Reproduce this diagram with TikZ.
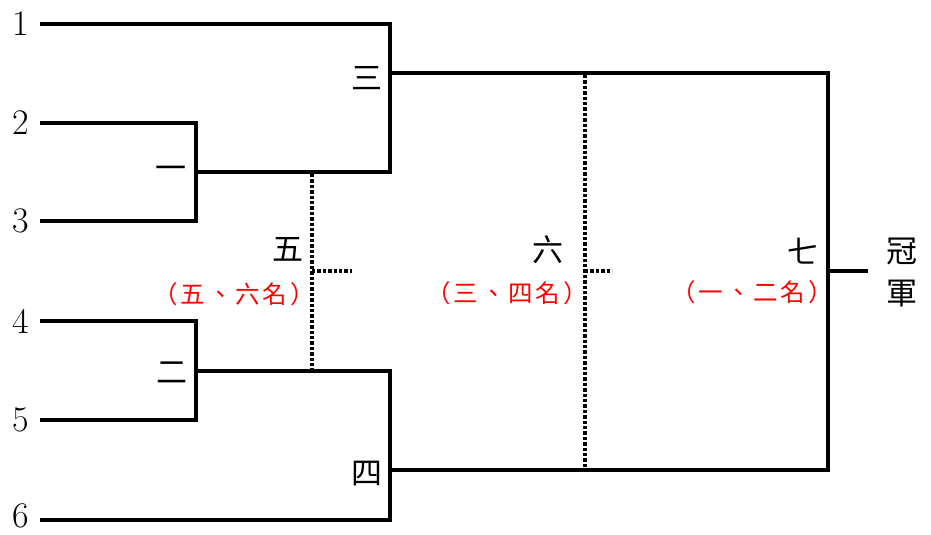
\documentclass[tikz,border=0pt]{standalone}
\usepackage{fontspec}
\usepackage{xcolor}
\newfontfamily\cjk{Noto Sans CJK TC}
\newfontfamily\cjkwide[LetterSpace=12]{Noto Sans CJK TC}

\begin{document}
\begin{tikzpicture}[x=1pt, y=-1pt,
    bracket/.style={line width=3.2pt, line join=miter},
    dots/.style={line width=3.2pt, dash pattern=on 3.4pt off 2pt},
    seed/.style={font=\fontsize{36}{36}\selectfont, inner sep=0pt},
    round/.style={font=\fontsize{31}{31}\selectfont\cjk, inner sep=0pt},
    place/.style={font=\fontsize{24.5}{24.5}\selectfont\cjkwide, red, inner sep=0pt}]

\useasboundingbox (0,0) rectangle (931,535);

% Jugadores
\coordinate (p1) at (40,24);
\coordinate (p2) at (40,123);
\coordinate (p3) at (40,221);
\coordinate (p4) at (40,321);
\coordinate (p5) at (40,420);
\coordinate (p6) at (40,520);
\node[seed] (s1) at (21,24) {1};
\node[seed] (s2) at (21,123) {2};
\node[seed] (s3) at (21,221) {3};
\node[seed] (s4) at (21,321) {4};
\node[seed] (s5) at (21,420) {5};
\node[seed] (s6) at (21,516) {6};

% Partidos
\coordinate (m1) at (196,172);
\coordinate (m2) at (196,371);
\coordinate (m3) at (390,73);
\coordinate (m4) at (390,470);
\coordinate (m7) at (828,271);
\coordinate (win) at (868,271);

% Llaves
\draw[bracket] (p2) -| (m1) |- (p3);
\draw[bracket] (p4) -| (m2) |- (p5);
\draw[bracket] (m1) -| (m3) |- (p1);
\draw[bracket] (m2) -| (m4) |- (p6);
\draw[bracket] (m3) -| (m7) |- (m4);
\draw[bracket] (m7) -- (win);

% Partido por el quinto puesto
\coordinate (d5a) at (312,174);
\coordinate (d5b) at (312,371);
\coordinate (d5) at (312,271);
\coordinate (d5e) at (352,271);
\draw[dots] (d5a) -- (d5b);
\draw[dots] (d5) -- (d5e);

% Partido por el tercer puesto
\coordinate (d6a) at (585,75);
\coordinate (d6b) at (585,470);
\coordinate (d6) at (585,271);
\coordinate (d6e) at (612,271);
\draw[dots] (d6a) -- (d6b);
\draw[dots] (d6) -- (d6e);

% Etiquetas
\node[round] (r1) at (171,173) {一};
\node[round] (r2) at (172,373) {二};
\node[round] (r3) at (367,78) {三};
\node[round] (r4) at (367,474) {四};
\node[round] (r5) at (288,249) {五};
\node[round] (r6) at (548,250) {六};
\node[round] (r7) at (803,251) {七};
\node[round] (c1) at (902,251) {冠};
\node[round] (c2) at (902,294) {軍};

\node[place] (q5) at (234,294) {（五、六名）};
\node[place] (q3) at (507,293) {（三、四名）};
\node[place] (q1) at (752,292) {（一、二名）};

\end{tikzpicture}
\end{document}
